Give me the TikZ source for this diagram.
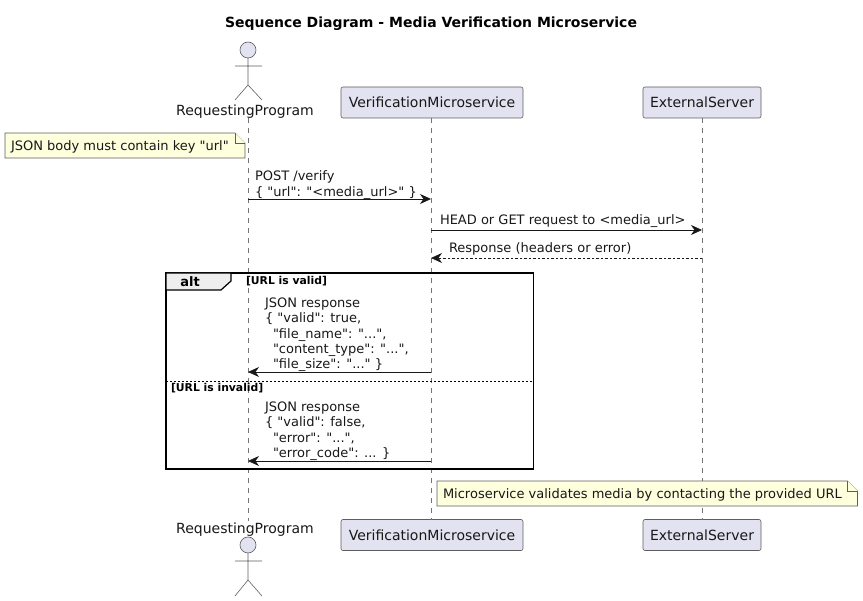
\documentclass[tikz,border=0pt]{standalone}
\usepackage{fontspec}
\newfontfamily\dv{DejaVu Sans}
\usetikzlibrary{arrows.meta}
\definecolor{ink}{HTML}{181818}
\definecolor{partfill}{HTML}{E2E2F0}
\definecolor{notefill}{HTML}{FEFFDD}
\definecolor{tabfill}{HTML}{EEEEEE}
\tikzset{
  x=1pt,y=-1pt,
  every node/.style={text=ink,inner sep=0pt,outer sep=0pt},
  body/.style={font=\dv\fontsize{13}{15.25}\selectfont,align=left},
  big/.style={font=\dv\fontsize{14}{16}\selectfont,align=center},
  label/.style={body,anchor=north west},
  part/.style={big,draw=ink!70,line width=0.6pt,fill=partfill,rounded corners=2pt,minimum height=31pt,anchor=center},
  head/.style={circle,draw=ink!70,line width=0.6pt,fill=partfill,minimum size=16pt},
  stick/.style={draw=ink!70,line width=0.6pt},
  life/.style={draw=ink!60,line width=0.5pt,dash pattern=on 5pt off 5pt},
  msg/.style={draw=ink,line width=0.8pt,-{Stealth[length=11pt,width=10pt,inset=3.5pt]}},
  reply/.style={msg,dash pattern=on 2.5pt off 2pt},
  notebox/.style={draw=ink!70,line width=0.6pt,fill=notefill},
  frameline/.style={draw=black,line width=1.5pt},
  guard/.style={font=\dv\fontsize{10.8}{12}\selectfont\bfseries,anchor=west,text=black},
}
\begin{document}
\begin{tikzpicture}
\useasboundingbox (0,0) rectangle (863,601);
\node[font=\dv\fontsize{14}{16}\selectfont\bfseries,text=black] (title) at (431,24) {Sequence Diagram - Media Verification Microservice};

% participant boxes
\node[part,minimum width=182pt] (vt) at (432,102.5) {VerificationMicroservice};
\node[part,minimum width=118pt] (et) at (702,102.5) {ExternalServer};
\node[part,minimum width=182pt] (vb) at (432,535) {VerificationMicroservice};
\node[part,minimum width=118pt] (eb) at (702,535) {ExternalServer};

% actor labels and anchors
\node[big] (rt) at (245,111.5) {RequestingProgram};
\node[big] (rb) at (245,530) {RequestingProgram};
\coordinate (rtop) at (248,118);
\coordinate (rbot) at (248,521);
\coordinate (vtop) at (431,118);
\coordinate (vbot) at (431,520);
\coordinate (etop) at (702,118);
\coordinate (ebot) at (702,520);

% lifelines
\draw[life] (rtop) -- (rbot);
\draw[life] (vtop) -- (vbot);
\draw[life] (etop) -- (ebot);

% top actor
\node[head] (ha) at (248,50) {};
\coordinate (ca) at (248,85);
\coordinate (la) at (235,100);
\coordinate (ra) at (262,100);
\coordinate (aal) at (235,66);
\coordinate (aar) at (262,66);
\draw[stick] (ha) -- (ca) (la) -- (ca) -- (ra) (aal) -- (aar);

% bottom actor
\node[head] (hb) at (248,545) {};
\coordinate (cb) at (248,580);
\coordinate (lb) at (235,596);
\coordinate (rbf) at (262,596);
\coordinate (abl) at (235,561);
\coordinate (abr) at (262,561);
\draw[stick] (hb) -- (cb) (lb) -- (cb) -- (rbf) (abl) -- (abr);

% note 1
\draw[notebox] (5,133) -- (235,133) -- (245,143) -- (245,158) -- (5,158) -- cycle;
\draw[notebox] (235,133) -- (235,143) -- (245,143);
\node[body,anchor=west] (n1) at (11,147) {JSON body must contain key "url"};

% messages
\node[label] (m1) at (255,171) {POST /verify\\\{ "url": "<media\_url>" \}};
\coordinate (m1a) at (248,199); \coordinate (m1b) at (431,199);
\draw[msg] (m1a) -- (m1b);

\node[label] (m2) at (440,215) {HEAD or GET request to <media\_url>};
\coordinate (m2a) at (431,230); \coordinate (m2b) at (702,230);
\draw[msg] (m2a) -- (m2b);

\node[label] (m3) at (449,243) {Response (headers or error)};
\coordinate (m3a) at (702,258); \coordinate (m3b) at (431,258);
\draw[reply] (m3a) -- (m3b);

% alt frame
\draw[frameline] (166,273) rectangle (533.5,469);
\draw[frameline,line width=1.2pt,fill=tabfill] (166,273) -- (231,273) -- (231,281) -- (221,290) -- (166,290) -- cycle;
\node[font=\dv\fontsize{13}{15}\selectfont\bfseries,text=black] (alt) at (190,281.5) {alt};
\node[guard] (g1) at (246,281.5) {[URL is valid]};
\coordinate (sl) at (166,381); \coordinate (sr) at (533.5,381);
\draw[draw=black,line width=0.8pt,dash pattern=on 2pt off 2pt] (sl) -- (sr);
\node[guard] (g2) at (171,388) {[URL is invalid]};

\node[label] (m4) at (265,298) {JSON response\\\{ "valid": true,\\\hspace*{8pt}"file\_name": "...",\\\hspace*{8pt}"content\_type": "...",\\\hspace*{8pt}"file\_size": "..." \}};
\coordinate (m4a) at (431,372); \coordinate (m4b) at (248,372);
\draw[msg] (m4a) -- (m4b);

\node[label] (m5) at (265,402) {JSON response\\\{ "valid": false,\\\hspace*{8pt}"error": "...",\\\hspace*{8pt}"error\_code": ... \}};
\coordinate (m5a) at (431,461); \coordinate (m5b) at (248,461);
\draw[msg] (m5a) -- (m5b);

% note 2
\draw[notebox] (437,481) -- (847.5,481) -- (857.5,491) -- (857.5,506) -- (437,506) -- cycle;
\draw[notebox] (847.5,481) -- (847.5,491) -- (857.5,491);
\node[body,anchor=west] (n2) at (443,494.5) {Microservice validates media by contacting the provided URL};
\end{tikzpicture}
\end{document}
